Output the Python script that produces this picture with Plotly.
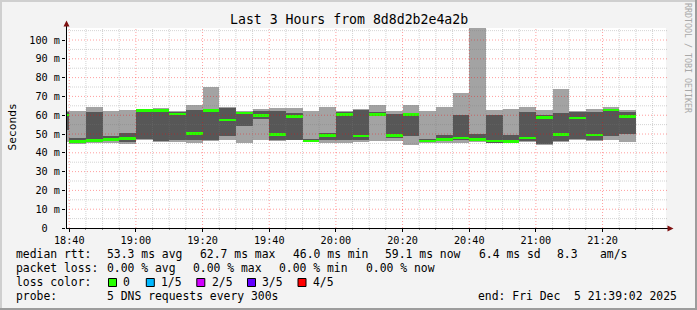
import plotly.graph_objects as go
import pandas as pd

# ---------------- data ----------------
interval_end = pd.date_range("2025-12-05 18:40", "2025-12-05 21:30", freq="5min")
rtt_max = [62.4, 62.4, 64.2, 62.4, 63.0, 63.4, 63.8, 62.4, 65.2, 74.8, 64.2, 62.4, 63.5, 63.8, 63.8,
           62.4, 64.2, 62.4, 63.5, 65.2, 62.4, 65.2, 62.4, 64.2, 72.0, 107.0, 63.0, 63.5, 64.2, 62.8,
           73.8, 62.4, 63.5, 64.2, 63.0]
rtt_q3 = [61.5, 47.9, 61.7, 49.1, 50.4, 62.6, 62.6, 61.7, 62.9, 62.6, 64.0, 61.8, 62.4, 62.4, 61.3,
          47.5, 50.5, 61.7, 62.8, 61.7, 60.6, 60.8, 47.5, 49.3, 59.9, 50.2, 60.3, 49.3, 61.7, 60.3,
          61.2, 61.7, 61.7, 63.5, 61.7]
rtt_median = [60.1, 46.1, 46.5, 47.0, 47.5, 62.4, 62.4, 60.6, 50.2, 62.4, 57.6, 61.2, 59.8, 49.7, 59.4,
              46.4, 49.1, 60.3, 48.9, 60.4, 49.1, 60.3, 46.3, 47.2, 48.0, 47.2, 46.2, 46.0, 47.9, 58.7,
              49.7, 58.5, 49.4, 62.8, 59.3]
rtt_q1 = [52.0, 45.6, 46.0, 46.2, 45.8, 47.2, 46.1, 47.0, 47.0, 47.0, 48.8, 54.1, 58.2, 47.0, 47.0,
          46.0, 47.0, 47.0, 47.0, 59.5, 47.8, 48.8, 45.6, 46.2, 47.0, 46.4, 45.3, 45.5, 46.5, 44.7,
          46.3, 47.2, 47.0, 48.8, 50.2]
rtt_min = [46.0, 44.7, 45.2, 45.2, 44.7, 47.0, 45.8, 45.7, 45.0, 46.1, 46.6, 45.4, 47.0, 46.1, 46.8,
           45.6, 45.0, 45.0, 45.7, 46.5, 46.5, 44.0, 45.0, 45.0, 45.0, 45.7, 45.0, 45.0, 45.9, 44.0,
           45.6, 47.0, 46.1, 47.0, 45.7]

y_tick_vals = [0, 10, 20, 30, 40, 50, 60, 70, 80, 90, 100]
y_tick_text = ["0\u00a0\u00a0", "10 m", "20 m", "30 m", "40 m", "50 m", "60 m", "70 m", "80 m", "90 m", "100 m"]

title_text = "Last 3 Hours from 8d8d2b2e4a2b"
rtt_stats = ["53.3 ms avg", "62.7 ms max", "46.0 ms min", "59.1 ms now", "6.4 ms sd", "8.3", "am/s"]
loss_stats = ["0.00 % avg", "0.00 % max", "0.00 % min", "0.00 % now"]
loss_labels = ["0", "1/5", "2/5", "3/5", "4/5"]
loss_colors = ["#26ff00", "#00b8ff", "#d200ff", "#6200ff", "#ff0000"]
probe_text = "5 DNS requests every 300s"
end_text = "end: Fri Dec  5 21:39:02 2025"

t_start = pd.Timestamp("2025-12-05 18:39:02")
t_end = pd.Timestamp("2025-12-05 21:39:02")

# ---------------- geometry / style ----------------
W, H = 697, 310
PL, PR, PT, PB = 66, 666, 28, 228
Y_MAX = 106.4
FONT = "DejaVu Sans Mono"
LIGHT = "#a3a3a3"
DARK = "#575757"
MED_HALF = 0.65
MAJOR_GRID = "rgba(255,0,0,0.38)"
MINOR_GRID = "rgba(120,120,120,0.32)"


def fx(p):
    return (p - PL) / (PR - PL)


def fy(p):
    return (PB - p) / (PB - PT)


def nb(s):
    return s.replace(" ", "\u00a0")


step = pd.Timedelta(minutes=5)
centers = interval_end - step / 2
width_ms = step.total_seconds() * 1000

fig = go.Figure()
fig.add_bar(x=centers, base=rtt_min, y=[h - l for h, l in zip(rtt_max, rtt_min)], width=width_ms,
            marker=dict(color=LIGHT, line=dict(width=0)), hoverinfo="skip")
fig.add_bar(x=centers, base=rtt_q1, y=[h - l for h, l in zip(rtt_q3, rtt_q1)], width=width_ms,
            marker=dict(color=DARK, line=dict(width=0)), hoverinfo="skip")
fig.add_bar(x=centers, base=[m - MED_HALF for m in rtt_median], y=[2 * MED_HALF] * len(rtt_median),
            width=width_ms, marker=dict(color=loss_colors[0], line=dict(width=0)), hoverinfo="skip")

shapes = []
# grid (drawn above data, like rrdtool)
gt = pd.date_range("2025-12-05 18:40", "2025-12-05 21:35", freq="5min")
for t in gt:
    major = (t.minute % 20 == 0)
    shapes.append(dict(type="line", xref="x", yref="paper", x0=t, x1=t, y0=0, y1=1, layer="above",
                       line=dict(color=MAJOR_GRID if major else MINOR_GRID,
                                 width=1, dash="1px,2px" if major else "1px,1px")))
for v in range(5, 106, 5):
    major = (v % 10 == 0)
    shapes.append(dict(type="line", xref="paper", yref="y", x0=0, x1=fx(668), y0=v, y1=v, layer="above",
                       line=dict(color=MAJOR_GRID if major else MINOR_GRID,
                                 width=1, dash="1px,2px" if major else "1px,1px")))
# axes lines + arrows
shapes.append(dict(type="line", xref="paper", yref="paper", x0=fx(PL + 0.5), x1=fx(PL + 0.5),
                   y0=fy(PB + 0.5), y1=fy(24), line=dict(color="black", width=1), layer="above"))
shapes.append(dict(type="line", xref="paper", yref="paper", x0=fx(PL), x1=fx(670),
                   y0=fy(PB + 0.5), y1=fy(PB + 0.5), line=dict(color="black", width=1), layer="above"))
shapes.append(dict(type="path", xref="paper", yref="paper",
                   path=f"M {fx(63.5)} {fy(26.5)} L {fx(69.5)} {fy(26.5)} L {fx(66.5)} {fy(20.5)} Z",
                   fillcolor="#7f1010", line=dict(width=0), layer="above"))
shapes.append(dict(type="path", xref="paper", yref="paper",
                   path=f"M {fx(667.5)} {fy(225.5)} L {fx(667.5)} {fy(231.5)} L {fx(673.5)} {fy(228.5)} Z",
                   fillcolor="#7f1010", line=dict(width=0), layer="above"))
# image frame
shapes.append(dict(type="line", xref="paper", yref="paper", x0=fx(0), x1=fx(W), y0=fy(1), y1=fy(1),
                   line=dict(color="#cfcfcf", width=2)))
shapes.append(dict(type="line", xref="paper", yref="paper", x0=fx(1), x1=fx(1), y0=fy(0), y1=fy(H),
                   line=dict(color="#cfcfcf", width=2)))
shapes.append(dict(type="line", xref="paper", yref="paper", x0=fx(0), x1=fx(W), y0=fy(H - 1), y1=fy(H - 1),
                   line=dict(color="#9c9c9c", width=2)))
shapes.append(dict(type="line", xref="paper", yref="paper", x0=fx(W - 1), x1=fx(W - 1), y0=fy(0), y1=fy(H),
                   line=dict(color="#9c9c9c", width=2)))

ann = []


def text(s, x, y, size=11.4, anchor="left", color="black", angle=0):
    ann.append(dict(text=nb(s), x=fx(x), y=fy(y), xref="paper", yref="paper", xanchor=anchor,
                    yanchor="middle", showarrow=False, textangle=angle, borderpad=0, borderwidth=0,
                    font=dict(family=FONT, size=size, color=color)))


text(title_text, 348.5, 20, size=13.2, anchor="center")
text("Seconds", 11.5, 127, size=11.2, anchor="center", angle=-90)
text("RRDTOOL / TOBI OETIKER", 688, 58, size=8.3, anchor="center", color="#a8a8a8", angle=90)

ROW = [254.3, 268.3, 282.3, 296.3]
text("median rtt:", 16, ROW[0])
for s, x in zip(rtt_stats, [107.3, 200, 292.7, 385, 478.7, 557.3, 600]):
    text(s, x, ROW[0])
text("packet loss:", 16, ROW[1])
for s, x in zip(loss_stats, [107.3, 193.3, 279.3, 365.7]):
    text(s, x, ROW[1])
text("loss color:", 16, ROW[2])
for lab, col, x in zip(loss_labels, loss_colors, [108.5, 146.3, 196.8, 247.5, 298]):
    shapes.append(dict(type="rect", xref="paper", yref="paper", x0=fx(x), x1=fx(x + 8),
                       y0=fy(278.5), y1=fy(286.5), fillcolor=col, line=dict(color="black", width=1)))
    text(lab, x + 14.7, ROW[2])
text("probe:", 16, ROW[3])
text(probe_text, 107.3, ROW[3])
text(end_text, 478.3, ROW[3])

fig.update_layout(
    width=W, height=H,
    margin=dict(l=PL, r=W - PR, t=PT, b=H - PB, pad=0),
    paper_bgcolor="#f3f3f3", plot_bgcolor="white",
    barmode="overlay", bargap=0, showlegend=False,
    shapes=shapes, annotations=ann,
    font=dict(family=FONT, color="black"),
    xaxis=dict(range=[t_start, t_end], type="date", tickformat="%H:%M",
               tick0="2025-12-05 18:40", dtick=20 * 60 * 1000,
               showgrid=False, zeroline=False, showline=False,
               ticks="outside", ticklen=3, tickcolor="black", tickwidth=1,
               tickfont=dict(family=FONT, size=10.2, color="black"),
               minor=dict(dtick=5 * 60 * 1000, ticks="outside", ticklen=1, tickcolor="#888888", showgrid=False),
               fixedrange=True),
    yaxis=dict(range=[0, Y_MAX], tickvals=y_tick_vals, ticktext=y_tick_text,
               showgrid=False, zeroline=False, showline=False,
               ticks="outside", ticklen=3, tickcolor="black", tickwidth=1,
               tickfont=dict(family=FONT, size=10.2, color="black"),
               fixedrange=True),
)

fig.write_html("out.html")
